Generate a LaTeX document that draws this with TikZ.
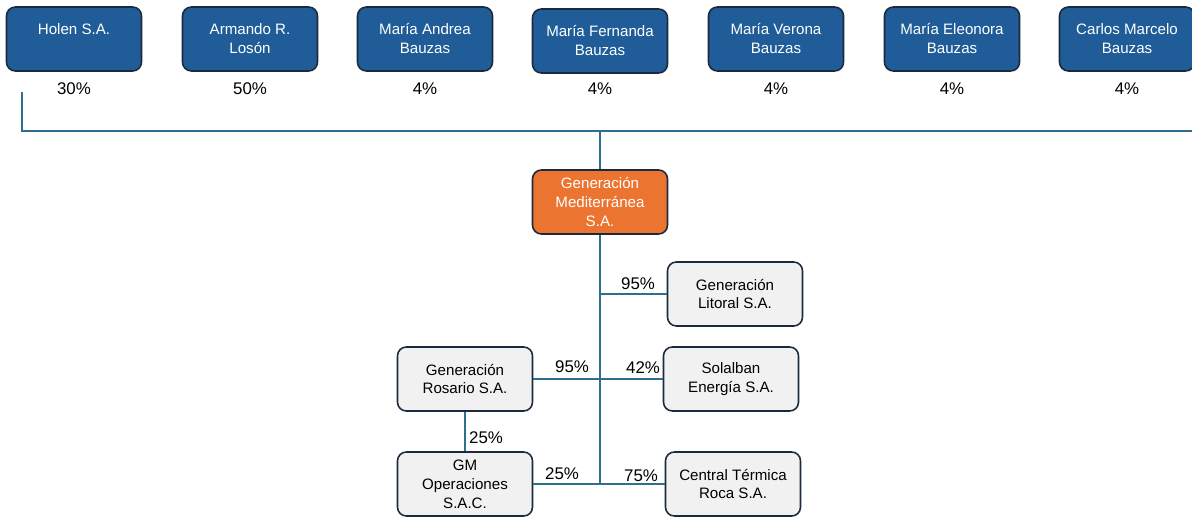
\documentclass[tikz,border=0pt]{standalone}
\usepackage{fontspec}
\setmainfont{Liberation Sans}
\usetikzlibrary{positioning}
\definecolor{boxblue}{HTML}{1F5C98}
\definecolor{boxedge}{HTML}{1B2B3D}
\definecolor{linkcol}{HTML}{2F6E8C}
\definecolor{boxorange}{HTML}{EC7431}
\definecolor{boxgray}{HTML}{F1F1F1}
\tikzset{
  owner/.style={draw=boxedge, fill=boxblue, text=white, rounded corners=5pt, line width=0.9pt,
    minimum width=2.7cm, minimum height=1.28cm, align=center, font=\fontsize{8.6}{10.8}\selectfont},
  firm/.style={owner, fill=boxgray, text=black},
  holding/.style={owner, fill=boxorange},
  pct/.style={font=\fontsize{9.6}{11}\selectfont, inner sep=1pt},
  link/.style={draw=linkcol, line width=1.1pt}
}
\begin{document}
\begin{tikzpicture}[x=0.02cm, y=-0.02cm]
	\useasboundingbox (0,0) rectangle (1192,517);

	% accionistas
	\foreach \n/\x/\y/\t/\p in {holen/74/39/{Holen S.A.\\ \mbox{}}/30,
	    loson/250/39/{Armando R.\\ Losón}/50,
	    andrea/425/39/{María Andrea\\ Bauzas}/4,
	    fernanda/600/41/{María Fernanda\\ Bauzas}/4,
	    verona/776/39/{María Verona\\ Bauzas}/4,
	    eleonora/952/39/{María Eleonora\\ Bauzas}/4,
	    carlos/1127/39/{Carlos Marcelo\\ Bauzas}/4}
	    {
		\node[owner] (\n) at (\x,\y) {\t};
		\node[pct] (p\n) at (\x,89) {\p\%};
	    }

	\coordinate (busL) at (22,92);
	\coordinate (busR) at (1195,131);
	\draw[link] (busL) |- (busR);

	\node[holding] (med) at (600,202) {Generación\\ Mediterránea\\ S.A.};
	\draw[link] (med.north) -- (med.north |- busR);

	% subsidiarias
	\node[firm] (litoral) at (735,294) {Generación\\ Litoral S.A.};
	\node[firm] (solalban) at (731,379) {Solalban\\ Energía S.A.};
	\node[firm] (rosario) at (465,379) {Generación\\ Rosario S.A.};
	\node[firm] (gmop) at (465,484) {GM\\ Operaciones\\ S.A.C.};
	\node[firm] (roca) at (733,484) {Central Térmica\\ Roca S.A.};

	\draw[link] (med.south) -- (med.south |- roca.west);
	\draw[link] (litoral.west) -- (litoral.west -| med.south);
	\draw[link] (rosario.east) -- (solalban.west);
	\draw[link] (gmop.east) -- (roca.west);
	\draw[link] (rosario.south) -- (gmop.north);

	\node[pct] (l95) at (638,284) {95\%};
	\node[pct] (r95) at (572,367) {95\%};
	\node[pct] (s42) at (643,368) {42\%};
	\node[pct] (g25) at (562,474) {25\%};
	\node[pct] (c75) at (641,476) {75\%};
	\node[pct] (v25) at (486,438) {25\%};
\end{tikzpicture}
\end{document}
